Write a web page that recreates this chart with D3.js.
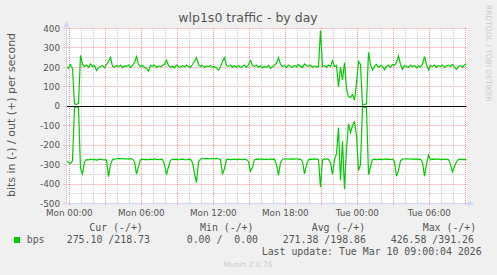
<!DOCTYPE html>
<html>
<head>
<meta charset="utf-8">
<title>wlp1s0 traffic - by day</title>
<script src="https://d3js.org/d3.v7.min.js"></script>
<style>
  body { margin: 0; background: #f0f0f0; }
  svg { display: block; }
  text { font-family: "DejaVu Sans", sans-serif; fill: #555; }
  .mono { font-family: "DejaVu Sans Mono", monospace; white-space: pre; }
</style>
</head>
<body>
<svg width="497" height="275"></svg>
<script>
// one sample every 10 minutes, first at Sun 23:46
var outBps = [
  205,195,215,195,12,10,14,262,215,205,
  212,200,218,205,210,184,200,205,210,198,
  215,230,252,205,200,210,204,212,198,208,
  205,212,200,210,225,255,215,205,210,200,
  195,180,210,205,212,200,208,203,210,215,
  237,210,200,207,198,212,205,200,210,202,
  212,205,200,215,230,250,215,205,210,200,
  208,203,210,200,205,195,186,205,230,250,
  210,205,212,200,208,202,210,200,205,212,
  200,215,235,210,205,212,200,208,198,205,
  200,210,195,205,210,222,250,215,205,210,
  200,212,205,200,210,203,215,205,200,218,
  210,205,212,200,208,203,205,390,205,210,
  200,212,205,234,205,210,100,200,135,225,
  90,50,45,60,32,120,230,215,5,10,
  12,278,215,186,205,215,200,210,205,188,
  205,212,200,215,210,225,258,215,190,210,
  205,200,212,203,210,198,208,202,215,255,
  215,186,210,205,212,200,210,204,212,200,
  208,212,205,215,200,190,205,210,200,212,219
];
// "in" traffic, plotted below zero
var inBps = [
  282,288,295,280,5,4,6,320,348,285,
  274,276,272,275,273,277,274,272,275,276,
  276,362,300,275,272,270,268,270,268,271,
  270,272,269,271,285,349,310,275,272,274,
  273,275,272,274,271,273,275,272,274,300,
  352,310,278,272,274,272,275,273,272,274,
  275,273,272,290,345,392,285,272,268,270,
  268,270,269,268,270,268,270,275,350,320,
  274,272,275,273,272,274,272,273,275,272,
  274,285,334,315,275,272,273,271,272,274,
  272,274,271,273,272,300,354,290,272,270,
  272,270,273,271,272,270,273,272,285,348,
  300,275,272,273,271,272,274,416,275,272,
  271,273,290,350,275,245,110,380,180,426,
  220,90,135,100,80,150,330,300,5,4,
  6,352,310,275,272,274,273,272,274,271,
  273,272,274,272,285,360,330,280,272,270,
  271,272,270,273,272,271,273,272,290,360,
  300,252,275,272,273,271,272,274,272,273,
  272,274,300,337,310,285,273,272,274,273,275
];

var yTicks = [400, 300, 200, 100, 0, -100, -200, -300, -400, -500];
var xTickHours = [0, 6, 12, 18, 24, 30];
var xTickLabels = ["Mon 00:00", "Mon 06:00", "Mon 12:00", "Mon 18:00", "Tue 00:00", "Tue 06:00"];
var legendHeads = ["Cur (-/+)", "Min (-/+)", "Avg (-/+)", "Max (-/+)"];
var legendValues = ["275.10 /218.73", "  0.00 /  0.00", "271.38 /198.86", "426.58 /391.26"];

var svg = d3.select("svg");

var startHour = -14 / 60;
var x = d3.scaleLinear()
  .domain([startHour, startHour + 400 * 5 / 60])
  .range([66.5, 466.5]);
var y = d3.scaleLinear()
  .domain([-500, 400])
  .range([203.5, 28.5]);

function crisp(v) { return Math.round(v - 0.5) + 0.5; }

// canvas
svg.append("rect")
  .attr("x", 66.5).attr("y", 28)
  .attr("width", 400.5).attr("height", 175.5)
  .attr("fill", "#fff");

var grid = svg.append("g");
var minorCol = "#c8c8c8", majorCol = "rgba(222,79,79,0.6)";

// horizontal grid
grid.selectAll(".hmin")
  .data(d3.range(-450, 400, 100))
  .enter().append("line")
  .attr("x1", 66.5).attr("x2", 466.5)
  .attr("y1", function(d) { return crisp(y(d)); })
  .attr("y2", function(d) { return crisp(y(d)); })
  .attr("stroke", minorCol).attr("stroke-dasharray", "1,1");

grid.selectAll(".hmaj")
  .data(yTicks)
  .enter().append("line")
  .attr("x1", 63.5).attr("x2", 466.5)
  .attr("y1", function(d) { return crisp(y(d)); })
  .attr("y2", function(d) { return crisp(y(d)); })
  .attr("stroke", majorCol).attr("stroke-dasharray", "1,1");

// vertical grid: hours minor, every 3 hours major
var hours = d3.range(0, 34);
grid.selectAll(".v")
  .data(hours)
  .enter().append("line")
  .attr("x1", function(d) { return crisp(x(d)); })
  .attr("x2", function(d) { return crisp(x(d)); })
  .attr("y1", 28)
  .attr("y2", function(d) { return d % 3 === 0 ? 206 : 203.5; })
  .attr("stroke", function(d) { return d % 3 === 0 ? majorCol : minorCol; })
  .attr("stroke-dasharray", "1,1");

// data lines
var line = d3.line()
  .x(function(d, i) { return x(startHour + i / 6); })
  .y(function(d) { return y(d); });

svg.append("path")
  .datum(outBps)
  .attr("d", line)
  .attr("fill", "none")
  .attr("stroke", "#00cc00")
  .attr("stroke-width", 1.2);

svg.append("path")
  .datum(inBps.map(function(d) { return -d; }))
  .attr("d", line)
  .attr("fill", "none")
  .attr("stroke", "#00cc00")
  .attr("stroke-width", 1.2);

// zero line
svg.append("line")
  .attr("x1", 66.5).attr("x2", 466.5)
  .attr("y1", crisp(y(0))).attr("y2", crisp(y(0)))
  .attr("stroke", "#000");

// axes with arrows
var axisCol = "#cfd6f8";
svg.append("line")
  .attr("x1", 66.5).attr("x2", 66.5)
  .attr("y1", 204).attr("y2", 24)
  .attr("stroke", axisCol);
svg.append("path")
  .attr("d", "M63.5,27 L69.5,27 L66.5,21 Z")
  .attr("fill", axisCol);
svg.append("line")
  .attr("x1", 66).attr("x2", 469)
  .attr("y1", 203.5).attr("y2", 203.5)
  .attr("stroke", axisCol);
svg.append("path")
  .attr("d", "M468,200.5 L468,206.5 L474,203.5 Z")
  .attr("fill", axisCol);

// tick labels
svg.selectAll(".ylab")
  .data(yTicks)
  .enter().append("text")
  .attr("x", 60)
  .attr("y", function(d) { return y(d) + 3.2; })
  .attr("text-anchor", "end")
  .attr("font-size", 8.8)
  .text(function(d) { return d; });

svg.selectAll(".xlab")
  .data(xTickHours)
  .enter().append("text")
  .attr("x", function(d) { return x(d); })
  .attr("y", 216)
  .attr("text-anchor", "middle")
  .attr("font-size", 8.8)
  .text(function(d, i) { return xTickLabels[i]; });

// title and side labels
svg.append("text")
  .attr("x", 248).attr("y", 22)
  .attr("text-anchor", "middle")
  .attr("font-size", 12.5)
  .text("wlp1s0 traffic - by day");

svg.append("text")
  .attr("transform", "translate(15,115) rotate(-90)")
  .attr("text-anchor", "middle")
  .attr("font-size", 11)
  .text("bits in (-) / out (+) per second");

svg.append("text")
  .attr("transform", "translate(485.5,5) rotate(90)")
  .attr("font-size", 7.5)
  .style("fill", "#cccccc")
  .text("RRDTOOL / TOBI OETIKER");

// legend
var headX = [89.3, 200, 311.7, 422.7];
var valX = [66.7, 174.8, 282.7, 390.7];

svg.selectAll(".lh")
  .data(legendHeads)
  .enter().append("text")
  .attr("class", "mono")
  .attr("x", function(d, i) { return headX[i]; })
  .attr("y", 231)
  .attr("font-size", 9.9)
  .text(function(d) { return d; });

svg.append("rect")
  .attr("x", 14).attr("y", 237)
  .attr("width", 6).attr("height", 6)
  .attr("fill", "#00cc00");

svg.append("text")
  .attr("class", "mono")
  .attr("x", 26.7).attr("y", 243.3)
  .attr("font-size", 9.9)
  .text("bps");

svg.selectAll(".lv")
  .data(legendValues)
  .enter().append("text")
  .attr("class", "mono")
  .attr("x", function(d, i) { return valX[i]; })
  .attr("y", 243.3)
  .attr("font-size", 9.9)
  .text(function(d) { return d; });

svg.append("text")
  .attr("class", "mono")
  .attr("x", 261.7).attr("y", 255)
  .attr("font-size", 9.9)
  .text("Last update: Tue Mar 10 09:00:04 2026");

svg.append("text")
  .attr("x", 248).attr("y", 266.5)
  .attr("text-anchor", "middle")
  .attr("font-size", 7.5)
  .style("fill", "#cccccc")
  .text("Munin 2.0.76");
</script>
</body>
</html>
